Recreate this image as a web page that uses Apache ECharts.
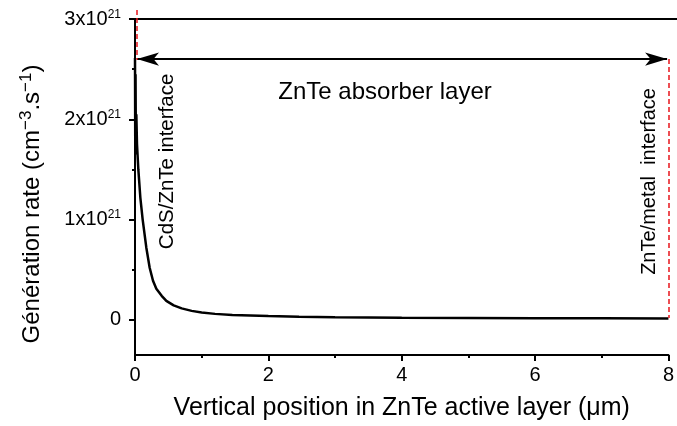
<!DOCTYPE html>
<html>
<head>
<meta charset="utf-8">
<script src="https://cdn.jsdelivr.net/npm/echarts@6/dist/echarts.min.js"></script>
<style>
  html, body { margin: 0; padding: 0; background: #fff; }
  #chart { width: 677px; height: 426px; }
</style>
</head>
<body>
<div id="chart"></div>
<script>
// Depth into the ZnTe absorber (µm)
const positions = [0, 0.004, 0.008, 0.012, 0.02, 0.03, 0.05, 0.08, 0.115, 0.17, 0.22, 0.27, 0.32, 0.4, 0.47, 0.58, 0.7, 0.85, 1.0, 1.2, 1.46, 2.0, 2.46, 3, 4, 5, 6, 7, 8];
// Generation rate, in units of 1e21 cm^-3 s^-1
const generation = [2.61, 1.65, 2.45, 1.9, 2.05, 1.75, 1.5, 1.22, 1.0, 0.72, 0.52, 0.39, 0.31, 0.24, 0.19, 0.145, 0.115, 0.09, 0.074, 0.06, 0.048, 0.038, 0.032, 0.027, 0.022, 0.019, 0.017, 0.016, 0.015];
const yTicks = [0, 1, 2, 3];
const yMinorTicks = [-0.5, 0.5, 1.5, 2.5];
const layerStart = 0;
const layerEnd = 8;
const arrowLevel = 2.6;

const FONT = 'Liberation Sans, Arial, sans-serif';
const chart = echarts.init(document.getElementById('chart'));

const yBase = {
  type: 'value', min: -0.35, max: 3,
  splitLine: { show: false }
};
const hiddenAxis = {
  type: 'value',
  axisLine: { show: false }, axisTick: { show: false },
  axisLabel: { show: false }, splitLine: { show: false }
};
const dashed = { color: '#e8141b', width: 1.5, type: [5, 3] };

chart.setOption({
  animation: false,
  backgroundColor: '#fff',
  grid: [
    { left: 135, right: 6, top: 19, bottom: 67 },
    // overlay sharing the same scale, reaching above the frame and to the right edge
    { left: 135, right: 0, top: 10, bottom: 67 }
  ],
  xAxis: [{
    type: 'value', min: 0, max: 8, interval: 2, gridIndex: 0,
    name: 'Vertical position in ZnTe active layer (\u03bcm)',
    nameLocation: 'middle', nameGap: 41,
    nameTextStyle: { fontFamily: FONT, fontSize: 25, color: '#000' },
    axisLine: { show: true, onZero: false, lineStyle: { color: '#000', width: 2 } },
    axisTick: { show: true, inside: false, length: 6, lineStyle: { color: '#000', width: 2 } },
    minorTick: { show: true, splitNumber: 2, length: 3, lineStyle: { color: '#000', width: 2 } },
    axisLabel: { fontFamily: FONT, fontSize: 20, color: '#000', margin: 10 },
    splitLine: { show: false }
  }, Object.assign({}, hiddenAxis, { gridIndex: 1, min: 0, max: 542 / 67 })],
  yAxis: [
    Object.assign({}, yBase, {
      gridIndex: 0,
      name: 'G\u00e9n\u00e9ration rate (cm{sup|\u22123}.s{sup|\u22121})',
      nameLocation: 'middle', nameGap: 88, nameRotate: 90,
      nameTextStyle: {
        fontFamily: FONT, fontSize: 24, color: '#000', padding: [0, 34, 0, 0],
        rich: { sup: { fontFamily: FONT, fontSize: 17, color: '#000', verticalAlign: 'top', padding: [0, 0, 12, 0] } }
      },
      axisLine: { show: true, onZero: false, lineStyle: { color: '#000', width: 2 } },
      axisTick: { show: true, inside: false, length: 6, customValues: yTicks, lineStyle: { color: '#000', width: 2 } },
      axisLabel: {
        customValues: yTicks, margin: 14,
        fontFamily: FONT, fontSize: 20, color: '#000',
        formatter: v => v === 0 ? '0' : v + 'x10{sup|21}',
        rich: { sup: { fontFamily: FONT, fontSize: 12, color: '#000', verticalAlign: 'top', padding: [0, 0, 9, 0] } }
      }
    }),
    Object.assign({}, yBase, {
      gridIndex: 0,
      position: 'left',
      axisLine: { show: false },
      axisTick: { show: true, inside: false, length: 3, customValues: yMinorTicks, lineStyle: { color: '#000', width: 2 } },
      axisLabel: { show: false }
    }),
    Object.assign({}, hiddenAxis, { gridIndex: 1, min: -0.35, max: 3.09 })
  ],
  series: [{
    type: 'line',
    xAxisIndex: 0, yAxisIndex: 0,
    data: positions.map((x, i) => [x, generation[i]]),
    showSymbol: false,
    lineStyle: { color: '#000', width: 2.5 },
    markLine: {
      silent: true,
      symbol: 'none',
      label: { show: false },
      data: [
        // ZnTe/metal interface marker
        [{ coord: [layerEnd, arrowLevel], lineStyle: dashed },
         { coord: [layerEnd, 0.02] }],
        // absorber extent arrow
        [{ coord: [layerStart + 0.03, arrowLevel], symbol: 'arrow', symbolSize: [10, 22], lineStyle: { color: '#000', width: 2, type: 'solid' } },
         { coord: [layerEnd - 0.02, arrowLevel], symbol: 'arrow', symbolSize: [10, 22] }]
      ]
    },
    markPoint: {
      silent: true,
      symbol: 'circle', symbolSize: 0,
      data: [
        { coord: [3.75, 2.27], label: { show: true, formatter: 'ZnTe absorber layer', fontFamily: FONT, fontSize: 24, color: '#000' } },
        { coord: [0.48, 1.58], label: { show: true, formatter: 'CdS/ZnTe interface', rotate: 90, fontFamily: FONT, fontSize: 20.5, color: '#000' } },
        { coord: [7.72, 1.38], label: { show: true, formatter: 'ZnTe/metal  interface', rotate: 90, fontFamily: FONT, fontSize: 20, color: '#000' } }
      ]
    }
  }, {
    type: 'line',
    xAxisIndex: 1, yAxisIndex: 2,
    data: [],
    markLine: {
      silent: true,
      symbol: 'none',
      label: { show: false },
      data: [
        // top frame line
        [{ coord: [layerStart, 3], lineStyle: { color: '#000', width: 2, type: 'solid' } },
         { coord: [542 / 67, 3] }],
        // CdS/ZnTe interface marker
        [{ coord: [layerStart + 0.03, 3.09], lineStyle: dashed },
         { coord: [layerStart + 0.03, arrowLevel] }]
      ]
    }
  }]
});
</script>
</body>
</html>
